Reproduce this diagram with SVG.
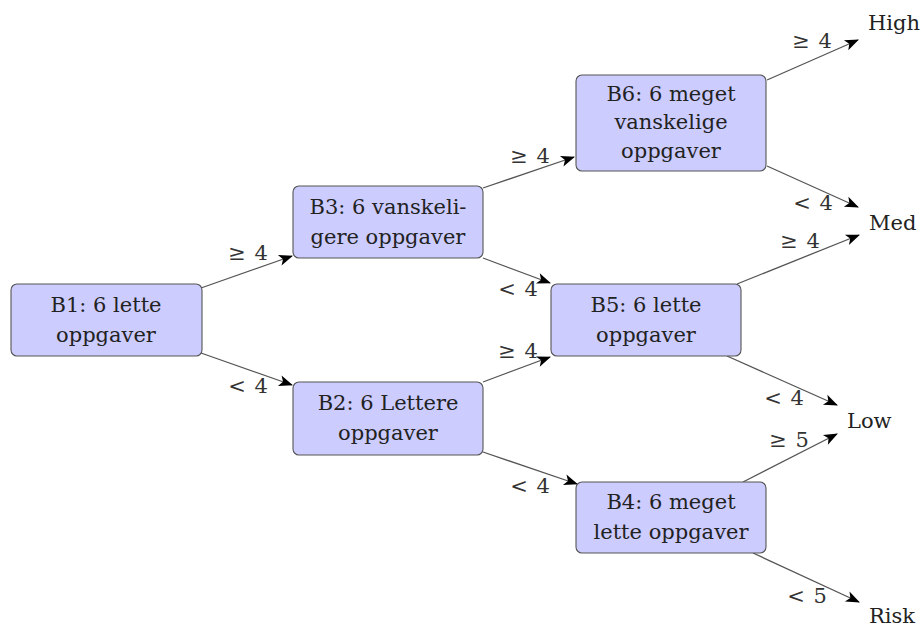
<svg xmlns="http://www.w3.org/2000/svg" width="921" height="627" viewBox="0 0 921 627">
<style>
.box{fill:#ccccff;stroke:#555;stroke-width:1.1}
.t{font-family:"DejaVu Serif","Liberation Serif",serif;font-size:21px;fill:#222;text-anchor:middle}
.l{font-family:"DejaVu Serif","Liberation Serif",serif;font-size:21px;fill:#333;text-anchor:middle;word-spacing:2px}
.term{font-family:"DejaVu Serif","Liberation Serif",serif;font-size:21px;fill:#222}
.e{stroke:#555;stroke-width:1.3;fill:none;marker-end:url(#arr)}
</style>
<defs>
<marker id="arr" markerUnits="userSpaceOnUse" markerWidth="16" markerHeight="14" refX="14" refY="7" orient="auto" viewBox="0 0 16 14">
<path d="M15,7 L1,1.5 L4.5,7 L1,12.5 Z" fill="#000"/>
</marker>
</defs>
<rect width="921" height="627" fill="#fff"/>
<g id="connectors">
<line class="e" x1="201" y1="288" x2="292" y2="256"/>
<line class="e" x1="201" y1="353" x2="292" y2="385"/>
<line class="e" x1="483" y1="188" x2="574" y2="157"/>
<line class="e" x1="483" y1="258" x2="550" y2="283"/>
<line class="e" x1="483" y1="382" x2="550" y2="357"/>
<line class="e" x1="483" y1="452" x2="577" y2="484"/>
<line class="e" x1="767" y1="80" x2="858" y2="40"/>
<line class="e" x1="767" y1="166" x2="858" y2="207"/>
<line class="e" x1="737" y1="284" x2="859" y2="235"/>
<line class="e" x1="727" y1="356" x2="837" y2="405"/>
<line class="e" x1="743" y1="482" x2="837" y2="434"/>
<line class="e" x1="753" y1="553" x2="859" y2="602"/>
<text class="l" x="248" y="260">≥ 4</text>
<text class="l" x="248" y="393">&lt; 4</text>
<text class="l" x="530" y="163">≥ 4</text>
<text class="l" x="518" y="296">&lt; 4</text>
<text class="l" x="518" y="358">≥ 4</text>
<text class="l" x="530" y="493">&lt; 4</text>
<text class="l" x="812" y="48">≥ 4</text>
<text class="l" x="813" y="210">&lt; 4</text>
<text class="l" x="800" y="248">≥ 4</text>
<text class="l" x="784" y="405">&lt; 4</text>
<text class="l" x="789" y="447">≥ 5</text>
<text class="l" x="807" y="603">&lt; 5</text>
</g>
<g id="B1"><rect class="box" x="11" y="284" width="191" height="72" rx="6"/><text class="t" x="106" y="312">B1: 6 lette</text><text class="t" x="106" y="342">oppgaver</text></g>
<g id="B3"><rect class="box" x="293" y="186" width="190" height="72" rx="6"/><text class="t" x="388" y="214">B3: 6 vanskeli-</text><text class="t" x="388" y="244">gere oppgaver</text></g>
<g id="B2"><rect class="box" x="293" y="382" width="190" height="73" rx="6"/><text class="t" x="388" y="410">B2: 6 Lettere</text><text class="t" x="388" y="440">oppgaver</text></g>
<g id="B6"><rect class="box" x="576" y="75" width="190" height="96" rx="6"/><text class="t" x="671" y="101">B6: 6 meget</text><text class="t" x="671" y="129">vanskelige</text><text class="t" x="671" y="158">oppgaver</text></g>
<g id="B5"><rect class="box" x="551" y="284" width="190" height="72" rx="6"/><text class="t" x="646" y="312">B5: 6 lette</text><text class="t" x="646" y="342">oppgaver</text></g>
<g id="B4"><rect class="box" x="576" y="482" width="190" height="71" rx="6"/><text class="t" x="671" y="509">B4: 6 meget</text><text class="t" x="671" y="539">lette oppgaver</text></g>
<g id="High"><text class="term" x="868" y="30">High</text></g>
<g id="Med"><text class="term" x="869" y="230">Med</text></g>
<g id="Low"><text class="term" x="847" y="428">Low</text></g>
<g id="Risk"><text class="term" x="869" y="623">Risk</text></g>
</svg>
